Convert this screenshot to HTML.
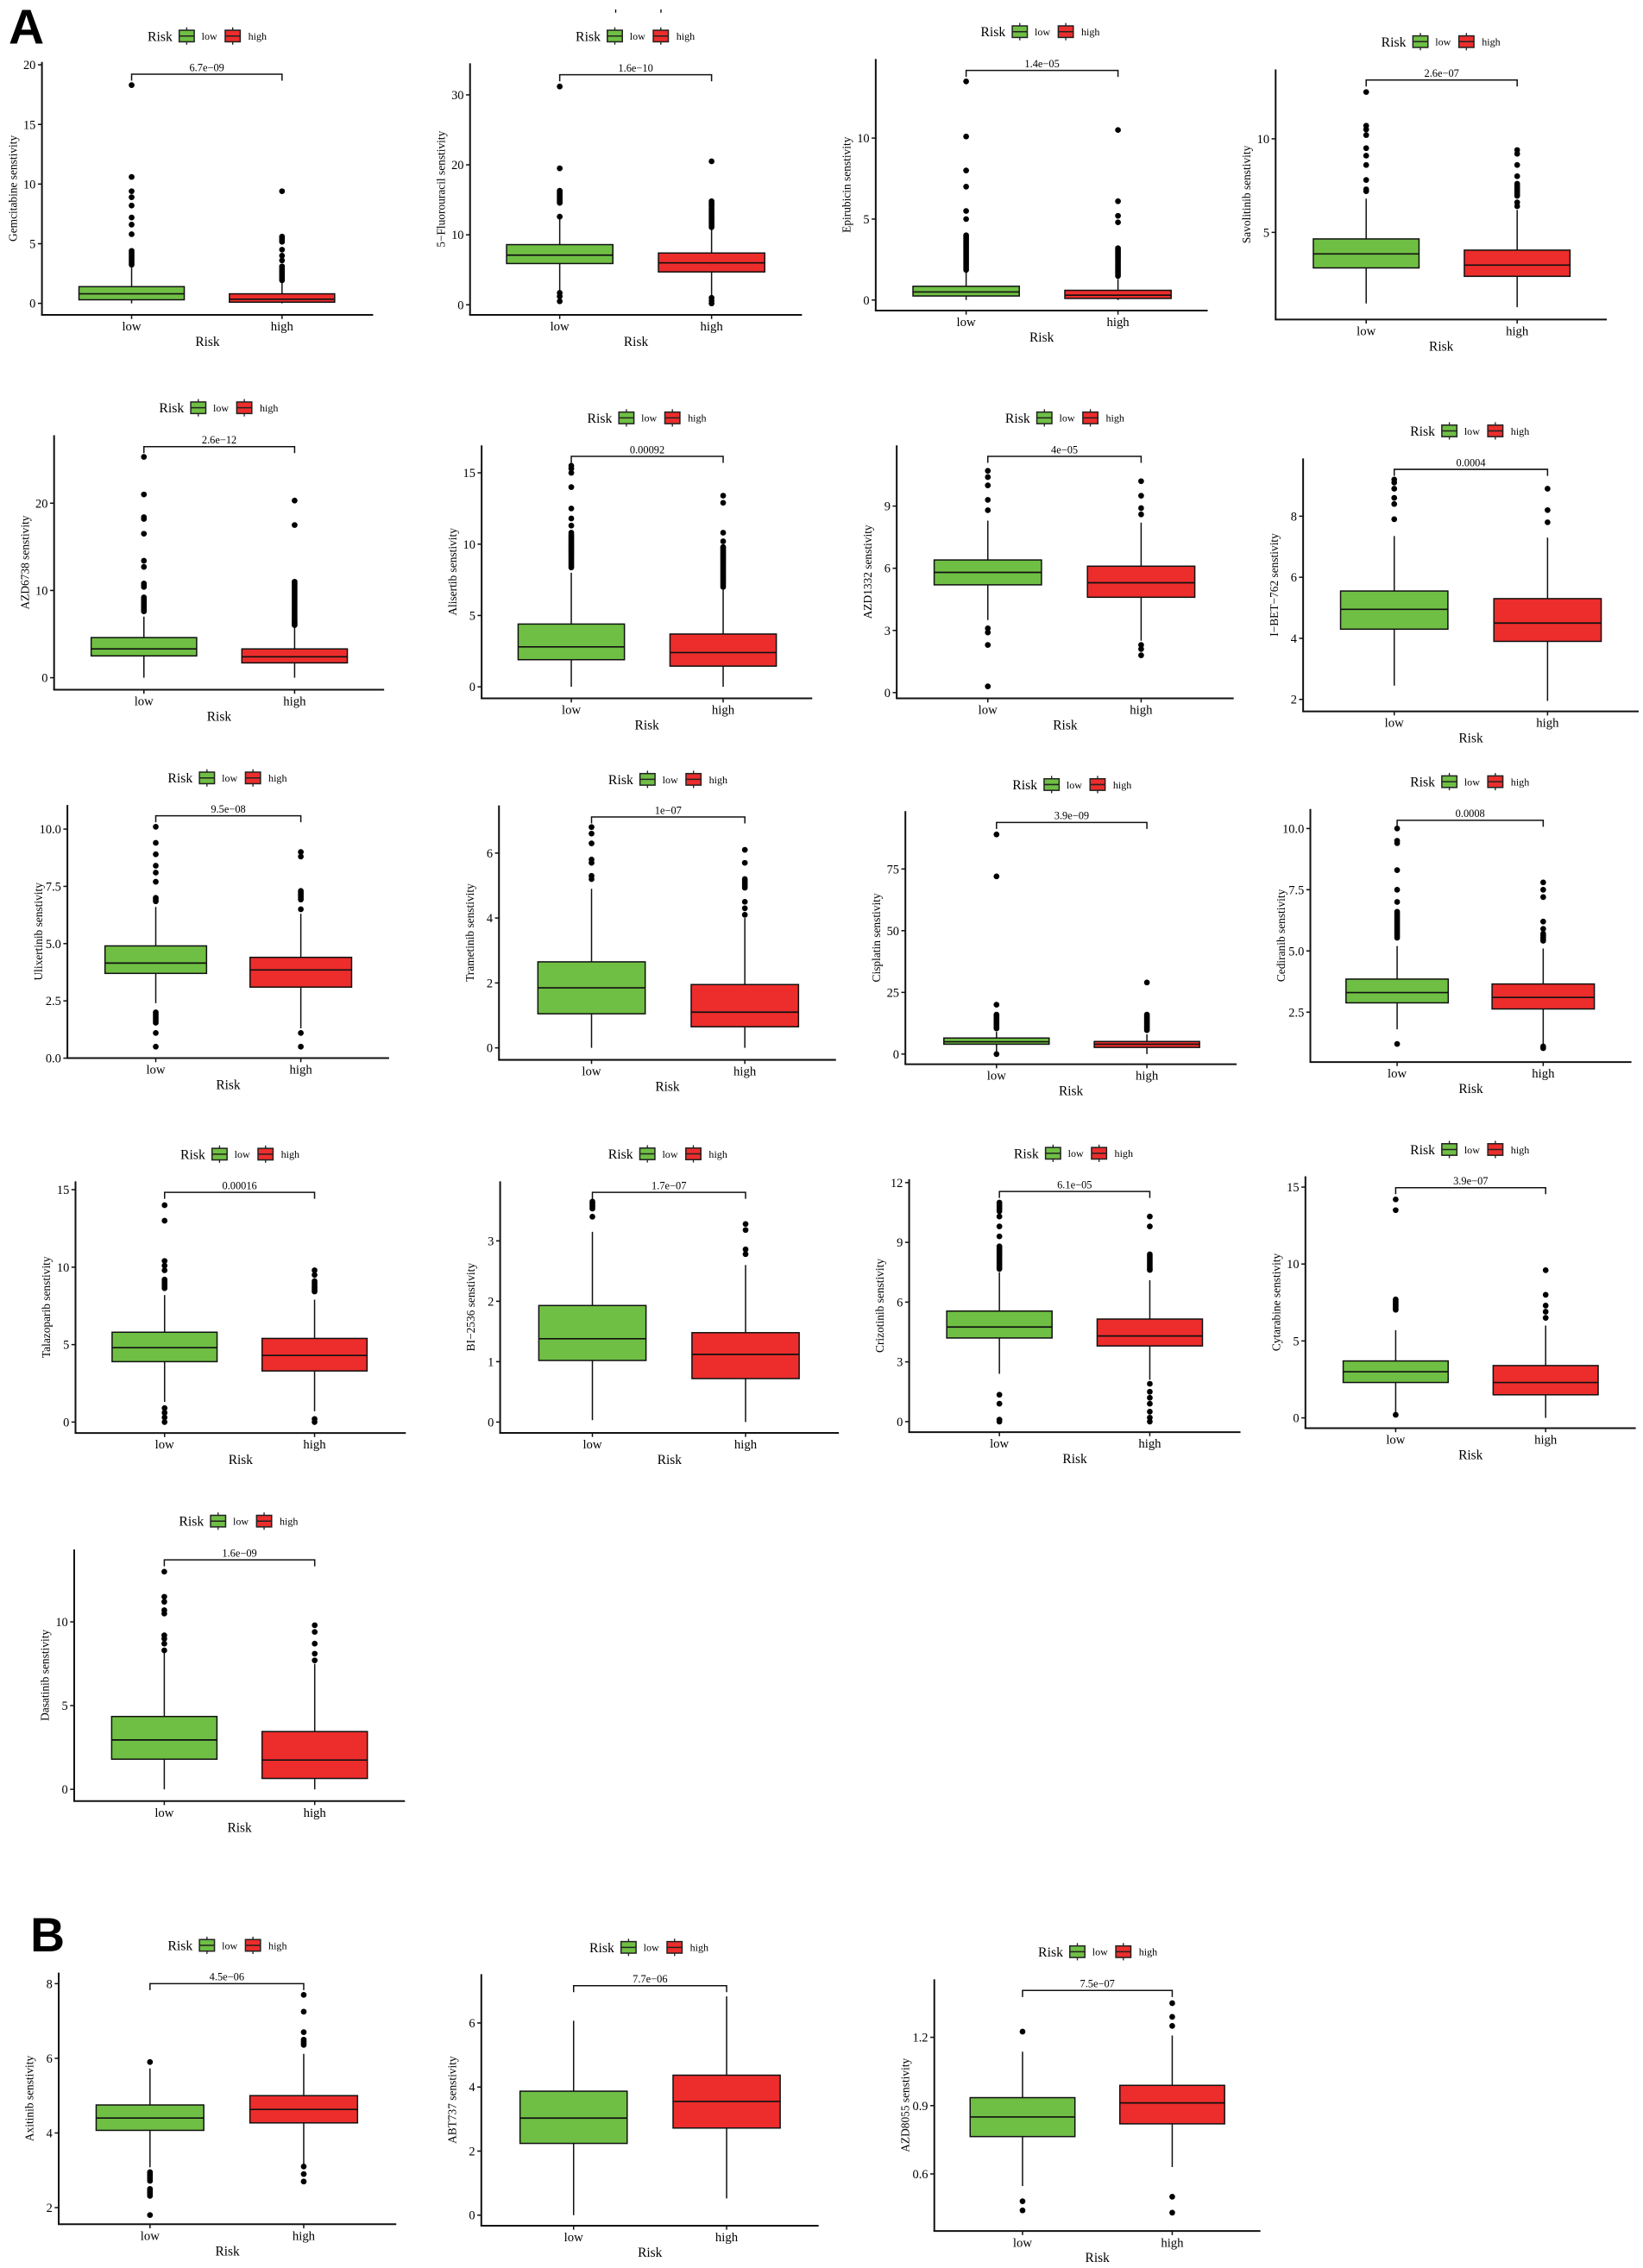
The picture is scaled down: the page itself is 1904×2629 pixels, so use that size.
<!DOCTYPE html>
<html><head><meta charset="utf-8"><style>
html,body{margin:0;padding:0;background:#fff;}
svg{display:block;}
</style></head><body>
<svg id="s" width="1904" height="2629" viewBox="0 0 1136 1568.55" xmlns="http://www.w3.org/2000/svg"></svg>
<script>
const G="#6fbf44",R="#ec2d2c",F='font-family="Liberation Serif, serif"';
const P=[
{n:"Gemcitabine",ax:29,top:42.8,bot:217.8,right:258,lo:91,hi:195,m:[0,209.8,20,44.8],t:[0,5,10,15,20],leg:[102,24.9],pb:51.3,p:"6.7e\u221209",
 L:{q1:.3,med:.8,q3:1.4,wl:0,wh:3,out:[[3.1,4.4],5.8,6.6,7.2,8.2,8.9,9.4,10.6,18.3]},H:{q1:.1,med:.35,q3:.8,wl:0,wh:1.8,out:[[1.9,3.1],3.6,4,4.5,[5.1,5.6],9.4]}},
{n:"5\u2212Fluorouracil",ax:325,top:43.8,bot:217.8,right:554.5,lo:387,hi:492,m:[0,210.8,30,65.6],t:[0,10,20,30],leg:[398,24.9],pb:51.7,p:"1.6e\u221210",
 L:{q1:5.9,med:7.1,q3:8.6,wl:2,wh:12.3,out:[0.5,1.2,1.7,12.6,[14.5,16.3],19.5,31.2]},H:{q1:4.7,med:6,q3:7.4,wl:1,wh:10.8,out:[0.2,0.6,1,[11,14.8],20.5]}},
{n:"Epirubicin",ax:605.5,top:40.8,bot:214.8,right:835,lo:668,hi:773,m:[0,207.5,10,95.5],t:[0,5,10],leg:[678,21.9],pb:48.7,p:"1.4e\u221205",
 L:{q1:.25,med:.5,q3:.85,wl:0,wh:1.7,out:[[1.8,4],5,5.5,7,8,10.1,13.5]},H:{q1:.1,med:.3,q3:.6,wl:0,wh:1.3,out:[[1.4,3.2],4.8,5.2,6.1,10.5]}},
{n:"Savolitinib",ax:882,top:48,bot:221,right:1111,lo:944.6,hi:1049,m:[5,160.7,10,96],t:[5,10],leg:[955,28.8],pb:55.3,p:"2.6e\u221207",
 L:{q1:3.1,med:3.85,q3:4.65,wl:1.2,wh:6.8,out:[7.2,7.3,7.8,8.6,9.1,9.5,10.2,10.5,10.7,12.5]},H:{q1:2.65,med:3.25,q3:4.05,wl:1,wh:6.2,out:[6.4,6.6,[6.9,7.6],8,8.6,9.2,9.4]}},
{n:"AZD6738",ax:37.4,top:301,bot:477,right:265.6,lo:99.5,hi:203.7,m:[0,468.7,20,348],t:[0,10,20],leg:[110,282],pb:308.9,p:"2.6e\u221212",
 L:{q1:2.5,med:3.3,q3:4.6,wl:0,wh:7,out:[[7.5,9.2],[10.3,10.8],12.7,13.4,16.5,18.2,18.4,21,25.3]},H:{q1:1.7,med:2.4,q3:3.3,wl:0,wh:5.8,out:[[5.9,11],17.5,20.3]}},
{n:"Alisertib",ax:333,top:308,bot:483,right:561.6,lo:395,hi:500,m:[0,475,15,327],t:[0,5,10,15],leg:[406,289],pb:315.6,p:"0.00092",
 L:{q1:1.9,med:2.8,q3:4.4,wl:0,wh:8,out:[[8.3,10.8],11.3,11.8,12.5,14,15,15.3,15.5]},H:{q1:1.45,med:2.4,q3:3.7,wl:0,wh:6.8,out:[[7,9.8],10.2,10.8,12.9,13.4]}},
{n:"AZD1332",ax:620,top:308,bot:483,right:853,lo:683,hi:789,m:[0,479,9,350],t:[0,3,6,9],leg:[695,289],pb:315.6,p:"4e\u221205",
 L:{q1:5.2,med:5.8,q3:6.4,wl:3.5,wh:8.3,out:[0.3,2.3,2.9,3.1,8.8,9.3,10,10.4,10.7]},H:{q1:4.6,med:5.3,q3:6.1,wl:2.5,wh:8.2,out:[1.8,2.1,2.3,8.6,8.9,9.5,10.2]}},
{n:"I\u2212BET\u2212762",ax:901,top:317,bot:492,right:1133,lo:964,hi:1070,m:[2,483.7,8,357],t:[2,4,6,8],leg:[975,298],pb:324.6,p:"0.0004",
 L:{q1:4.3,med:4.95,q3:5.55,wl:2.45,wh:7.35,out:[7.9,8.4,8.6,8.9,9.1,9.2]},H:{q1:3.9,med:4.5,q3:5.3,wl:1.95,wh:7.3,out:[7.8,8.2,8.9]}},
{n:"Ulixertinib",ax:46.6,top:556.7,bot:731.8,right:269,lo:107.7,hi:208,m:[0,731.8,10,573.4],t:[0,2.5,5,7.5,10],tl:["0.0","2.5","5.0","7.5","10.0"],leg:[116,538],pb:564.2,p:"9.5e\u221208",
 L:{q1:3.7,med:4.15,q3:4.9,wl:2.4,wh:6.6,out:[0.5,1.1,[1.5,2],[6.8,7],7.7,8.1,8.4,8.9,9.4,10.1]},H:{q1:3.1,med:3.85,q3:4.4,wl:1.3,wh:6.3,out:[0.5,1.1,6.5,[6.9,7.3],8.8,9]}},
{n:"Trametinib",ax:345,top:557,bot:733,right:578,lo:409,hi:515,m:[0,724.7,6,590],t:[0,2,4,6],leg:[420.6,539],pb:565,p:"1e\u221207",
 L:{q1:1.05,med:1.85,q3:2.65,wl:0,wh:4.9,out:[5.2,5.3,5.7,5.8,6.3,6.6,6.8]},H:{q1:.65,med:1.1,q3:1.95,wl:0,wh:4,out:[4.1,4.3,4.5,[4.9,5.2],5.7,6.1]}},
{n:"Cisplatin",ax:626,top:561,bot:736,right:855,lo:689,hi:793,m:[0,729,75,601],t:[0,25,50,75],leg:[700,542.6],pb:568.8,p:"3.9e\u221209",
 L:{q1:4,med:5,q3:6.5,wl:0,wh:9,out:[0,[10,16],20,72,89]},H:{q1:2.7,med:4,q3:5.1,wl:0,wh:8,out:[[9,16],29]}},
{n:"Cediranib",ax:906,top:559.5,bot:734.5,right:1128,lo:966,hi:1067,m:[2.5,700,10,573],t:[2.5,5,7.5,10],tl:["2.5","5.0","7.5","10.0"],leg:[975,540.6],pb:567.3,p:"0.0008",
 L:{q1:2.88,med:3.3,q3:3.85,wl:1.8,wh:5.2,out:[1.2,[5.5,6.6],7,7.5,8.3,9.4,9.5,10]},H:{q1:2.63,med:3.1,q3:3.65,wl:1.2,wh:5.1,out:[[1,1.1],[5.4,5.7],5.9,6.2,7.2,7.5,7.8]}},
{n:"Talazoparib",ax:52.2,top:817,bot:991.1,right:280.6,lo:113.8,hi:217.5,m:[0,983.5,15,822.8],t:[0,5,10,15],leg:[124.7,798.2],pb:824.6,p:"0.00016",
 L:{q1:3.9,med:4.8,q3:5.8,wl:1.3,wh:8.2,out:[0,0.3,0.6,0.9,[8.6,9.2],9.8,10.1,10.4,13,14]},H:{q1:3.3,med:4.3,q3:5.4,wl:0.7,wh:7.9,out:[0,0.2,[8.4,9.1],9.5,9.8]}},
{n:"BI\u22122536",ax:345.8,top:817,bot:991,right:580,lo:409.6,hi:515.5,m:[0,983.5,3,858.2],t:[0,1,2,3],leg:[420.5,798],pb:824.6,p:"1.7e\u221207",
 L:{q1:1.02,med:1.38,q3:1.93,wl:0.03,wh:3.15,out:[3.4,[3.52,3.65]]},H:{q1:.72,med:1.12,q3:1.48,wl:0,wh:2.6,out:[2.78,2.86,3.18,3.28]}},
{n:"Crizotinib",ax:628.6,top:815.5,bot:990.5,right:857.7,lo:691,hi:795,m:[0,983.2,12,817.9],t:[0,3,6,9,12],leg:[701,797.6],pb:824,p:"6.1e\u221205",
 L:{q1:4.2,med:4.75,q3:5.55,wl:2.4,wh:7.5,out:[0,0.1,0.9,1.35,[7.6,8.8],9.3,9.8,10.3,[10.5,11]]},H:{q1:3.8,med:4.3,q3:5.15,wl:2.1,wh:7.1,out:[0,0.2,0.5,0.9,1.2,1.5,1.9,[7.6,8.4],9.8,10.3]}},
{n:"Cytarabine",ax:902.6,top:813.5,bot:987.7,right:1131,lo:965,hi:1068.7,m:[0,980.6,15,821],t:[0,5,10,15],leg:[975,795],pb:821.4,p:"3.9e\u221207",
 L:{q1:2.3,med:3,q3:3.7,wl:0.2,wh:5.7,out:[0.2,[7,7.7],13.5,14.2]},H:{q1:1.5,med:2.3,q3:3.4,wl:0,wh:6,out:[6.5,6.9,7.3,8,9.6]}},
{n:"Dasatinib",ax:51.3,top:1071.6,bot:1245.6,right:280,lo:113.6,hi:217.6,m:[0,1237.5,10,1121.7],t:[0,5,10],leg:[123.7,1052],pb:1078.8,p:"1.6e\u221209",
 L:{q1:1.8,med:2.95,q3:4.35,wl:0,wh:8.3,out:[8.3,8.7,9,9.2,10.5,10.7,11.2,11.5,13]},H:{q1:.65,med:1.75,q3:3.45,wl:0,wh:7.5,out:[7.7,8.1,8.7,9.4,9.8]}},
{n:"Axitinib",ax:40.6,top:1364.3,bot:1538.3,right:274,lo:103.7,hi:210,m:[2,1526.8,8,1371.9],t:[2,4,6,8],leg:[116,1345.4],pb:1371.9,p:"4.5e\u221206",
 L:{q1:4.07,med:4.4,q3:4.75,wl:3.08,wh:5.73,out:[5.9,[2.7,2.95],[2.3,2.5],1.8]},H:{q1:4.27,med:4.63,q3:5.0,wl:3.17,wh:6.12,out:[3.1,2.9,2.7,[6.35,6.5],6.7,7.25,7.7]}},
{n:"ABT737",ax:332.8,top:1365.3,bot:1539.3,right:566,lo:396.6,hi:502.4,m:[0,1532,6,1399.1],t:[0,2,4,6],leg:[407.5,1346.8],pb:1373.3,p:"7.7e\u221206",
 L:{q1:2.24,med:3.03,q3:3.87,wl:0,wh:6.07,out:[]},H:{q1:2.72,med:3.55,q3:4.37,wl:0.52,wh:6.83,out:[]}},
{n:"AZD8055",ax:646,top:1368.9,bot:1543,right:871.5,lo:707,hi:810.5,m:[0.6,1503.5,1.2,1409],t:[0.6,0.9,1.2],tl:["0.6","0.9","1.2"],leg:[717.8,1349.8],pb:1376.6,p:"7.5e\u221207",
 L:{q1:.764,med:.85,q3:.935,wl:.547,wh:1.137,out:[1.225,.48,.44]},H:{q1:.82,med:.912,q3:.989,wl:.63,wh:1.208,out:[.5,.43,1.25,1.29,1.35]}}
];
let o='';
o+=`<text x="6" y="30" font-family="Liberation Sans, sans-serif" font-weight="bold" font-size="34">A</text>`;
o+=`<text x="21" y="1349.5" font-family="Liberation Sans, sans-serif" font-weight="bold" font-size="33">B</text>`;
o+=`<line x1="425.7" y1="6.5" x2="425.7" y2="8.8" stroke="#000" stroke-width="0.8"/><line x1="457" y1="6.5" x2="457" y2="8.8" stroke="#000" stroke-width="0.8"/>`;
function key(x,y,c){return `<line x1="${x+5.2}" y1="${y-6}" x2="${x+5.2}" y2="${y+6}" stroke="#222" stroke-width="0.8"/><rect x="${x}" y="${y-4}" width="10.4" height="8" fill="${c}" stroke="#222" stroke-width="0.9"/><line x1="${x}" y1="${y}" x2="${x+10.4}" y2="${y}" stroke="#222" stroke-width="0.9"/>`;}
P.forEach(d=>{
 const [v1,y1,v2,y2]=d.m,k=(y2-y1)/(v2-v1),Y=v=>y1+(v-v1)*k;
 const [S,ly]=d.leg;
 o+=`<text x="${S}" y="${ly+3.3}" ${F} font-size="9.4">Risk</text>`;
 o+=key(S+21.9,ly,G)+key(S+53.7,ly,R);
 o+=`<text x="${S+37.4}" y="${ly+2.6}" ${F} font-size="7.2">low</text><text x="${S+69.6}" y="${ly+2.6}" ${F} font-size="7.2">high</text>`;
 // axes
 o+=`<line x1="${d.ax}" y1="${d.top}" x2="${d.ax}" y2="${d.bot}" stroke="#111" stroke-width="1.2"/>`;
 o+=`<line x1="${d.ax-0.6}" y1="${d.bot}" x2="${d.right}" y2="${d.bot}" stroke="#111" stroke-width="1.2"/>`;
 d.t.forEach((t,i)=>{const y=Y(t);const lab=d.tl?d.tl[i]:String(t);
  o+=`<line x1="${d.ax-2.8}" y1="${y}" x2="${d.ax}" y2="${y}" stroke="#111" stroke-width="0.9"/><text x="${d.ax-4.3}" y="${y+3}" ${F} font-size="8.6" text-anchor="end">${lab}</text>`;});
 [d.lo,d.hi].forEach((x,i)=>{o+=`<line x1="${x}" y1="${d.bot}" x2="${x}" y2="${d.bot+2.8}" stroke="#111" stroke-width="0.9"/><text x="${x}" y="${d.bot+10.8}" ${F} font-size="8.8" text-anchor="middle">${i?'high':'low'}</text>`;});
 o+=`<text x="${(d.ax+d.right)/2}" y="${d.bot+21.5}" ${F} font-size="9.2" text-anchor="middle">Risk</text>`;
 const cy=(d.top+d.bot)/2,lx=d.ax-17.5;
 o+=`<text transform="translate(${lx},${cy}) rotate(-90)" x="0" y="0" ${F} font-size="8" text-anchor="middle">${d.n} senstivity</text>`;
 const hw=0.35*(d.hi-d.lo);
 [[d.lo,d.L,G],[d.hi,d.H,R]].forEach(([x,s,c])=>{
  o+=`<line x1="${x}" y1="${Y(s.wl)}" x2="${x}" y2="${Y(s.wh)}" stroke="#111" stroke-width="0.9"/>`;
  o+=`<rect x="${x-hw}" y="${Y(s.q3)}" width="${2*hw}" height="${Y(s.q1)-Y(s.q3)}" fill="${c}" stroke="#111" stroke-width="0.9"/>`;
  o+=`<line x1="${x-hw}" y1="${Y(s.med)}" x2="${x+hw}" y2="${Y(s.med)}" stroke="#111" stroke-width="1"/>`;
  s.out.forEach(v=>{
   if(Array.isArray(v)){const a=Y(v[0]),b=Y(v[1]);for(let y=Math.min(a,b);y<=Math.max(a,b)+0.01;y+=1.2)o+=`<circle cx="${x}" cy="${y.toFixed(2)}" r="2" fill="#000"/>`;}
   else o+=`<circle cx="${x}" cy="${Y(v).toFixed(2)}" r="2" fill="#000"/>`;});
 });
 const b=d.pb;
 o+=`<path d="M${d.lo},${b+4.5}V${b}H${d.hi}V${b+4.5}" fill="none" stroke="#111" stroke-width="0.9"/>`;
 o+=`<text x="${(d.lo+d.hi)/2}" y="${b-2.2}" ${F} font-size="7.4" text-anchor="middle">${d.p}</text>`;
});
document.getElementById('s').innerHTML=o;
</script>
</body></html>
